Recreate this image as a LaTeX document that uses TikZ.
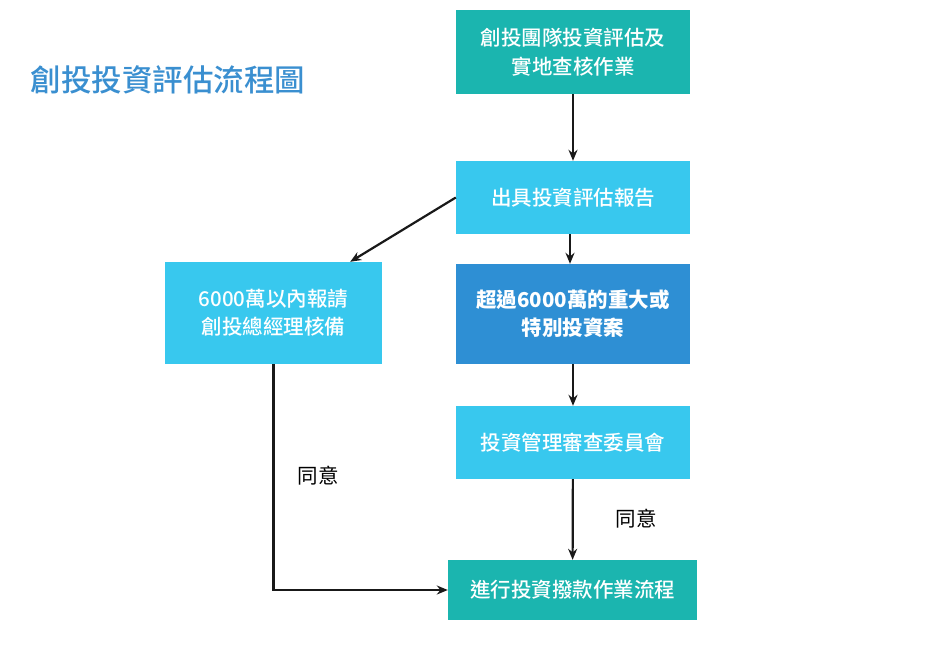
\documentclass[tikz,border=0pt]{standalone}
\usepackage{fontspec}
\setmainfont{Noto Sans CJK TC}[UprightFont={* Medium}]
\newfontfamily\labelfont{Noto Sans CJK TC}
\usetikzlibrary{arrows.meta}
\definecolor{tealfill}{HTML}{1BB5AF}
\definecolor{skyfill}{HTML}{38C8EE}
\definecolor{bluefill}{HTML}{2E8FD4}
\definecolor{titleblue}{HTML}{3A8FD0}
\tikzset{
  box/.style={draw=none, text=white, inner sep=0pt, align=center,
    font=\fontsize{20.5}{28.5}\selectfont},
  tealbox/.style={box, fill=tealfill},
  skybox/.style={box, fill=skyfill},
  bluebox/.style={box, fill=bluefill, font=\fontsize{20.5}{28}\selectfont\bfseries},
  agree/.style={font=\labelfont\fontsize{20.5}{24}\selectfont},
  flow/.style={-{Stealth[length=11pt,width=9pt]}, line width=2.2pt, draw=black!90},
}
\begin{document}
\begin{tikzpicture}[x=1pt,y=-1pt]
      \useasboundingbox (0,0) rectangle (937,651);
      \draw
        (27,80) node[anchor=west, text=titleblue, font=\fontsize{30.5}{34}\selectfont] (title){創投投資評估流程圖}
        (573,52) node[tealbox, minimum width=234pt, minimum height=84pt] (survey){創投團隊投資評估及\\實地查核作業}
        (573,197.5) node[skybox, minimum width=234pt, minimum height=73pt] (report){出具投資評估報告}
        (273.5,313) node[skybox, minimum width=217pt, minimum height=102pt] (small){6000萬以內報請\\創投總經理核備}
        (573,314) node[bluebox, minimum width=234pt, minimum height=100pt] (large){超過6000萬的重大或\\特別投資案}
        (573,442.5) node[skybox, minimum width=234pt, minimum height=73pt] (committee){投資管理審查委員會}
        (572.5,590) node[tealbox, minimum width=249pt, minimum height=60pt] (funding){進行投資撥款作業流程}
        (318,476) node[agree] (agreeleft){同意}
        (636,519) node[agree] (agreeright){同意};
      \begin{scope}[flow]
        \draw (survey) to (report);
        \draw ([xshift=-3pt]report.south) to ([xshift=-3pt]large.north);
        \draw (report.west) to ([xshift=-32pt]small.north east);
        \draw (large) to (committee);
        \draw (committee) to (funding);
        \draw (small.south) |- (funding.west);
      \end{scope}
    \end{tikzpicture}
\end{document}
